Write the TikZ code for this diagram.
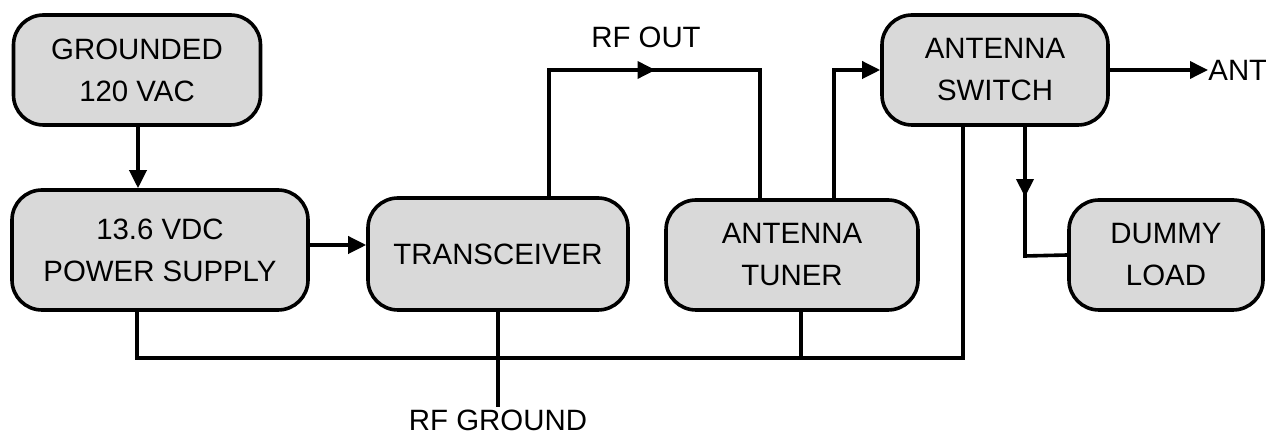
\documentclass[tikz,border=0pt]{standalone}
\usepackage{fontspec}
\setmainfont{Liberation Sans}
\usepackage{xcolor}
\definecolor{boxgray}{HTML}{D9D9D9}
\usepackage{tikz}
\usetikzlibrary{arrows.meta, positioning, decorations.markings}
\tikzstyle{arrow} = [-{Triangle[length=9pt, width=8.5pt]}, line width=1.8pt]
\tikzstyle{wire} = [line width=1.8pt]

\begin{document}
\begin{tikzpicture}[x=0.5pt, y=-0.5pt, every node/.style={align=center, font=\fontsize{14.7}{21}\selectfont},
    block/.style={rectangle, rounded corners=15pt, draw=black, line width=1.8pt, fill=boxgray},
    midarrow/.style={postaction={decorate}, decoration={markings,
      mark=at position #1 with {\arrow{Triangle[length=9pt, width=8.5pt]}}}}
  ]
    \useasboundingbox (0,0) rectangle (1266,437);

    \node[block, minimum width=123.5pt, minimum height=55pt] (ac) at (137,70) {GROUNDED\\120 VAC};
    \node[block, minimum width=148pt, minimum height=60pt] (ps) at (160,250) {13.6 VDC\\POWER SUPPLY};
    \node[block, minimum width=130pt, minimum height=56pt] (tx) at (498,254) {TRANSCEIVER};
    \node[block, minimum width=126pt, minimum height=55pt] (tu) at (792,255) {ANTENNA\\TUNER};
    \node[block, minimum width=113pt, minimum height=55pt] (sw) at (995,70) {ANTENNA\\SWITCH};
    \node[block, minimum width=97pt, minimum height=55pt] (dl) at (1166,255) {DUMMY\\LOAD};

    \node (rfo) at (646,37) {RF OUT};
    \node[inner sep=0pt, anchor=west] (ant) at (1208,70) {ANT};
    \node[inner sep=1pt] (rfg) at (498,420) {RF GROUND};

    \coordinate (pw) at (138,0);
    \coordinate (rf1) at (549,70);
    \coordinate (rf2) at (760,70);
    \coordinate (tu1) at (834,70);
    \coordinate (sd) at (1025,256);
    \coordinate (gb1) at (137,358);
    \coordinate (gb2) at (963,358);
    \coordinate (gb3) at (801,358);

    \draw[arrow] (pw |- ac.south) -- (pw |- ps.north);
    \draw[arrow] ([yshift=2.5pt]ps.east) -- ([yshift=2.5pt]ps.east -| tx.west);
    \draw[wire, midarrow=0.5] (rf1 |- tx.north) -- (rf1) -- (rf2) -- (rf2 |- tu.north);
    \draw[arrow] (tu1 |- tu.north) -- (tu1) -- (sw.west);
    \draw[arrow] (sw.east) -- (ant.west);
    \draw[wire, midarrow=0.41] (sd |- sw.south) -- (sd) -- (dl.west);
    \draw[wire] (gb1 |- ps.south) -- (gb1) -- (gb2) -- (gb2 |- sw.south);
    \draw[wire] (gb3 |- tu.south) -- (gb3);
    \draw[wire] (tx.south) -- (rfg.north);
\end{tikzpicture}
\end{document}
